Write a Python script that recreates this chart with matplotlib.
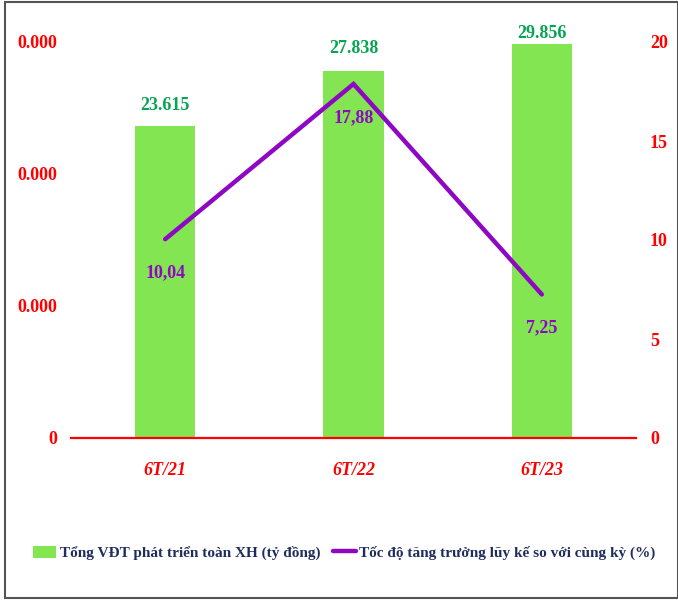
import matplotlib
matplotlib.use("Agg")
import matplotlib.pyplot as plt
from matplotlib.patches import Rectangle

categories = ["6T/21", "6T/22", "6T/23"]
investment = [23615, 27838, 29856]
investment_labels = ["23.615", "27.838", "29.856"]
growth = [10.04, 17.88, 7.25]
growth_labels = ["10,04", "17,88", "7,25"]
left_ticks = [0, 10000, 20000, 30000]
left_ticklabels = ["0", "0.000", "0.000", "0.000"]
right_ticks = [0, 5, 10, 15, 20]
right_ticklabels = ["0", "5", "10", "15", "20"]
legend_labels = ["Tổng VĐT phát triển toàn XH (tỷ đồng)",
                 "Tốc độ tăng trưởng lũy kế so với cùng kỳ (%)"]

plt.rcParams['font.family'] = ['Liberation Serif', 'DejaVu Serif']
plt.rcParams['font.weight'] = 'bold'

BAR = "#84E552"
GREEN_TXT = "#05A552"
PURPLE = "#8E08C4"
RED = "#FF0000"
NAVY = "#1F2D5E"

fig = plt.figure(figsize=(6.78, 6.0), dpi=100)
ax = fig.add_axes([71/678, 1-438/600, (636-71)/678, (438-42)/600])
ax2 = ax.twinx()

x = list(range(len(categories)))
bars = ax.bar(x, investment, width=0.32, color=BAR, zorder=2, label=legend_labels[0])
ax.set_xlim(-0.5, 2.5)
ax.set_ylim(0, 30000)
ax2.set_ylim(0, 20)

line, = ax2.plot(x, growth, color=PURPLE, lw=3.2, solid_capstyle='round',
                 solid_joinstyle='miter', zorder=3, label=legend_labels[1])

bar_offsets = [9, 10, 1.5]
for xi, v, lab, off in zip(x, investment, investment_labels, bar_offsets):
    ax.annotate(lab, (xi, v), xytext=(0, off), textcoords='offset points',
                ha='center', va='bottom', color=GREEN_TXT, fontsize=13,
                fontweight='bold')
for xi, v, lab in zip(x, growth, growth_labels):
    ax2.annotate(lab, (xi, v), xytext=(0, -24), textcoords='offset points',
                 ha='center', va='center', color=PURPLE, fontsize=13,
                 fontweight='bold', zorder=4)

ax.set_yticks(left_ticks)
ax.set_yticklabels(left_ticklabels)
ax2.set_yticks(right_ticks)
ax2.set_yticklabels(right_ticklabels)
ax.set_xticks(x)
ax.set_xticklabels(categories, fontstyle='italic')

ax.tick_params(axis='y', length=0, pad=10, labelcolor=RED, labelsize=13)
ax2.tick_params(axis='y', length=0, pad=10, labelcolor=RED, labelsize=13)
ax.tick_params(axis='x', length=0, pad=17, labelcolor=RED, labelsize=13)

for a in (ax, ax2):
    for s in ('top', 'left', 'right'):
        a.spines[s].set_visible(False)
ax2.spines['bottom'].set_visible(False)
ax.spines['bottom'].set_color(RED)
ax.spines['bottom'].set_linewidth(1.6)
ax.spines['bottom'].set_zorder(5)

leg = fig.legend([bars, line], legend_labels, loc='center',
                 bbox_to_anchor=(0.5 + 5.5/678, 1-553/600), ncol=2, frameon=False,
                 fontsize=11, handlelength=1.5, handleheight=0.8,
                 columnspacing=0.8, handletextpad=0.25)
for t in leg.get_texts():
    t.set_color(NAVY)
    t.set_fontweight('bold')

fig.patches.append(Rectangle((5/678, 2/600), 1 - 5/678 - 0.5/678, 1 - 4/600,
                             transform=fig.transFigure, fill=False,
                             edgecolor="#555555", lw=1.5))

fig.savefig("out.png", dpi=100)
